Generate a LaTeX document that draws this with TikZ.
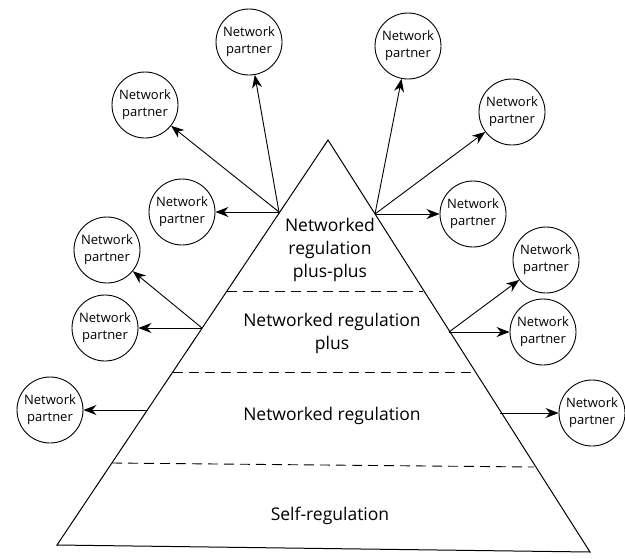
\documentclass[tikz,border=0pt]{standalone}
\usepackage{fontspec}
\setmainfont{Open Sans}
\usetikzlibrary{arrows.meta}
\begin{document}
\begin{tikzpicture}[x=1pt,y=-1pt,
  partner/.style={circle,draw,line width=0.9pt,minimum size=66pt,inner sep=0pt,align=center,font=\fontsize{13}{17}\selectfont},
  link/.style={line width=0.9pt,-{Stealth[length=13pt,width=10pt]}},
  layer/.style={align=center,font=\fontsize{17.5}{23}\selectfont},
  divider/.style={line width=0.9pt,dash pattern=on 10pt off 6pt}]
\useasboundingbox (0,0) rectangle (625,558);
% pyramid
\coordinate (apex) at (328,140);
\coordinate (bl) at (57,545);
\coordinate (br) at (590,552);
\draw[line width=1pt,line join=miter] (apex) -- (bl) -- (br) -- cycle;
% dividers
\coordinate (d1l) at (227,291);
\coordinate (d1r) at (423,291);
\coordinate (d2l) at (173,372);
\coordinate (d2r) at (474,372);
\coordinate (d3l) at (112,463);
\coordinate (d3r) at (534,467);
\draw[divider] (d1l) -- (d1r);
\draw[divider] (d2l) -- (d2r);
\draw[divider] (d3l) -- (d3r);
% layer labels
\node[layer] (l4) at (330,250) {Networked\\regulation\\plus-plus};
\node[layer] (l3) at (332,333) {Networked regulation\\plus};
\node[layer] (l2) at (332,416) {Networked regulation};
\node[layer] (l1) at (330,516) {Self-regulation};
% origins on the pyramid edges
\coordinate (oL1) at (279,212);
\coordinate (oR1) at (375,214);
\coordinate (oL2) at (202,328);
\coordinate (oR2) at (449,332);
\coordinate (oL3) at (147,410);
\coordinate (oR3) at (500,413);
% partners
\node[partner] (pL1a) at (182,212) {Network\\partner};
\node[partner] (pL1b) at (145,105) {Network\\partner};
\node[partner] (pL1c) at (249,42) {Network\\partner};
\node[partner] (pR1a) at (473,214) {Network\\partner};
\node[partner] (pR1b) at (512,112) {Network\\partner};
\node[partner] (pR1c) at (408,46) {Network\\partner};
\node[partner] (pL2a) at (107,250) {Network\\partner};
\node[partner] (pL2b) at (105,328) {Network\\partner};
\node[partner] (pR2a) at (546,260) {Network\\partner};
\node[partner] (pR2b) at (543,332) {Network\\partner};
\node[partner] (pL3) at (50,410) {Network\\partner};
\node[partner] (pR3) at (592,413) {Network\\partner};
% links
\draw[link] (oL1) -- (pL1a);
\draw[link] (oL1) -- (pL1b);
\draw[link] (oL1) -- (pL1c);
\draw[link] (oR1) -- (pR1a);
\draw[link] (oR1) -- (pR1b);
\draw[link] (oR1) -- (pR1c);
\draw[link] (oL2) -- (pL2a);
\draw[link] (oL2) -- (pL2b);
\draw[link] (oR2) -- (pR2a);
\draw[link] (oR2) -- (pR2b);
\draw[link] (oL3) -- (pL3);
\draw[link] (oR3) -- (pR3);
\end{tikzpicture}
\end{document}
